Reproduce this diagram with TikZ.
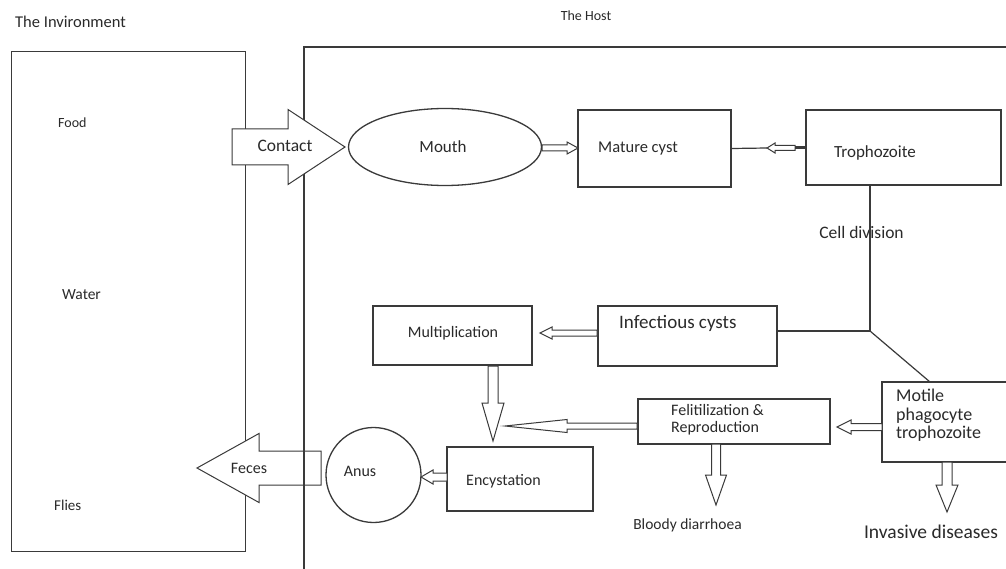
\documentclass[tikz,border=0pt]{standalone}
\usepackage{fontspec}
\setmainfont{Carlito}
\usetikzlibrary{calc,shapes.geometric}
\definecolor{ln}{HTML}{3A3A3A}
\definecolor{tx}{HTML}{2A2A2A}
\newcommand\fs[1]{\fontsize{#1}{#1}\selectfont}
\newcommand\blockarr[5]{%
  \coordinate (bh) at ($(#2)!#5!(#1)$);
  \draw[barrowline] ($(#1)!#3!90:(#2)$) -- ($(bh)!#3!90:(#2)$) -- ($(bh)!#4!90:(#2)$) -- (#2)
    -- ($(bh)!#4!-90:(#2)$) -- ($(bh)!#3!-90:(#2)$) -- ($(#1)!#3!-90:(#2)$) -- cycle;}
\tikzset{
  box/.style={draw=ln, line width=1.3pt, rectangle, inner sep=0pt},
  lbl/.style={text=tx, inner sep=0pt},
  barrowline/.style={draw=ln, line width=1pt, fill=white, line join=miter},
  wire/.style={draw=ln, line width=1.2pt},
}
\begin{document}
\begin{tikzpicture}[x=1pt,y=-1pt]
\clip (0,0) rectangle (1006,569);
\fill[white] (0,0) rectangle (1006,569);
% titles
\node[lbl, anchor=west, font=\fs{16.5}] (tenv) at (15,22) {The Invironment};
\node[lbl, font=\fs{14}] (thost) at (586,16) {The Host};
% environment box
\node[box, anchor=north west, minimum width=234pt, minimum height=500pt] (env) at (11,51) {};
\node[lbl, anchor=west, font=\fs{14}] (food) at (58,123) {Food};
\node[lbl, anchor=west, font=\fs{15.5}] (water) at (62,295) {Water};
\node[lbl, anchor=west, font=\fs{15}] (flies) at (54,505) {Flies};
% host nodes
\node[box, ellipse, minimum width=193pt, minimum height=77pt] (mouth) at (445,147) {};
\node[lbl, font=\fs{17}] (moutht) at (443,147) {Mouth};
\node[box, minimum width=153pt, minimum height=77pt] (mature) at (654.5,148.5) {};
\node[lbl, anchor=west, font=\fs{16.5}] (maturet) at (598,149) {Mature cyst};
\node[box, minimum width=195pt, minimum height=75pt] (tropho) at (903.5,147.5) {};
\node[lbl, anchor=west, font=\fs{17}] (trophot) at (834,153) {Trophozoite};
\node[lbl, font=\fs{17.5}] (celldiv) at (861.5,232) {Cell division};
\node[box, minimum width=179pt, minimum height=60pt] (infect) at (687.5,336) {};
\node[lbl, anchor=west, font=\fs{19}] (infectt) at (619,323) {Infectious cysts};
\node[box, minimum width=159pt, minimum height=59pt] (mult) at (452.5,335.5) {};
\node[lbl, font=\fs{16}] (multt) at (453,333) {Multiplication};
\node[box, minimum width=132pt, minimum height=80pt] (motile) at (948,422) {};
\node[lbl, anchor=north west, align=left, font=\fontsize{18}{18.5}\selectfont] (motilet) at (896,389) {Motile\\phagocyte\\trophozoite};
\node[box, minimum width=192pt, minimum height=45pt] (felit) at (734,421.5) {};
\node[lbl, anchor=north west, align=left, font=\fontsize{16}{17}\selectfont] (felitt) at (671,404) {Felitilization \&\\Reproduction};
\node[box, minimum width=146pt, minimum height=64pt] (encyst) at (520,479) {};
\node[lbl, anchor=west, font=\fs{16}] (encystt) at (466,481) {Encystation};
\node[box, circle, minimum size=95pt] (anus) at (373.5,475) {};
\node[lbl, font=\fs{16}] (anust) at (360,471) {Anus};
\node[lbl, font=\fs{15.5}] (bloody) at (687.5,525) {Bloody diarrhoea};
\node[lbl, font=\fs{19.5}] (invasive) at (931,532) {Invasive diseases};
% feces arrow (under host line)
\coordinate (ftail) at (321,468);
\coordinate (ftip) at (197,468);
\blockarr{ftail}{ftip}{17pt}{34.5pt}{62pt}
\node[lbl, font=\fs{16}] (feces) at (249,468) {Feces};
% host frame
\coordinate (hostbl) at (304,575);
\coordinate (hosttl) at (304,47);
\coordinate (hosttr) at (1012,47);
\draw[wire, line width=1.4pt] (hostbl) -- (hosttl) -- (hosttr);
% contact arrow
\coordinate (ctail) at (232,147);
\coordinate (ctip) at (345,147);
\blockarr{ctail}{ctip}{18pt}{37.5pt}{57pt}
\node[lbl, font=\fs{17.5}] (contact) at (285,146) {Contact};
% mouth -> mature cyst
\coordinate (mm1) at (542,148);
\coordinate (mm2) at (578,148);
\blockarr{mm1}{mm2}{3pt}{6pt}{11pt}
% mature cyst -> trophozoite
\coordinate (mt1) at (767,148);
\coordinate (mt2) at (795,148);
\draw[wire] (mature.east) -- (mt1);
\blockarr{mt2}{mt1}{2.5pt}{5pt}{8pt}
\draw[draw=ln, line width=3pt] (mt2) -- (tropho.west |- mt2);
% cell division branches
\coordinate (j) at (870,331);
\coordinate (mtop) at (930,382);
\draw[wire] (tropho.south -| j) -- (j);
\draw[wire] (j) -- (infect.east |- j);
\draw[wire] (j) -- (mtop);
% infectious -> multiplication
\coordinate (im1) at (597,333);
\coordinate (im2) at (540,333);
\blockarr{im1}{im2}{3pt}{6pt}{12pt}
% multiplication -> down
\coordinate (md1) at (493,366);
\coordinate (md2) at (493,441);
\blockarr{md1}{md2}{5pt}{11pt}{38pt}
% felit -> left
\coordinate (fl1) at (637,426);
\coordinate (fl2) at (505,426);
\blockarr{fl1}{fl2}{3pt}{6.5pt}{62pt}
% motile -> felit
\coordinate (mf1) at (882,427);
\coordinate (mf2) at (837,427);
\blockarr{mf1}{mf2}{3.5pt}{7pt}{14pt}
% felit -> bloody
\coordinate (fb1) at (716,444);
\coordinate (fb2) at (716,505);
\blockarr{fb1}{fb2}{4.5pt}{10.5pt}{30pt}
% motile -> invasive
\coordinate (mi1) at (947,462);
\coordinate (mi2) at (947,512);
\blockarr{mi1}{mi2}{5pt}{11pt}{27pt}
% encystation -> anus
\coordinate (ea1) at (447,477);
\coordinate (ea2) at (421,477);
\blockarr{ea1}{ea2}{4pt}{7pt}{12pt}
\end{tikzpicture}
\end{document}
